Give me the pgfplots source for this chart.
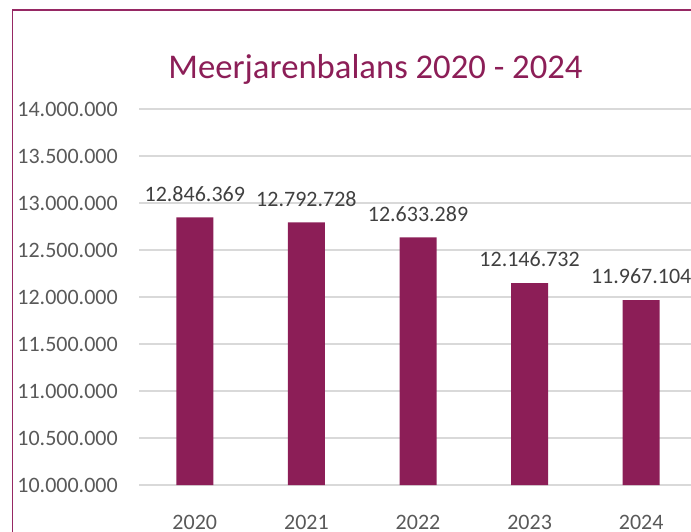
\documentclass[border=0pt]{standalone}
\usepackage{pgfplots}
\pgfplotsset{compat=1.18}
\usepackage{fontspec}
\setmainfont{Carlito}
\definecolor{barcol}{RGB}{140,30,87}
\definecolor{framecol}{RGB}{150,40,100}
\definecolor{tickcol}{RGB}{89,89,89}
\definecolor{lblcol}{RGB}{64,64,64}
\definecolor{gridgray}{RGB}{217,217,217}
\begin{document}
\begin{tikzpicture}
\useasboundingbox (0,0) rectangle (518.25pt,398.25pt);
\draw[framecol, line width=1pt] (9.6pt,-5pt) -- (9.6pt,390.75pt) -- (540pt,390.75pt);
\node[anchor=base, text=barcol, font=\fontsize{26}{30}\selectfont, inner sep=0pt] at (281.6pt,339pt) {Meerjarenbalans 2020 - 2024};
\begin{axis}[
  at={(104.25pt,34.5pt)}, anchor=south west,
  scale only axis, width=418.5pt, height=282pt,
  xmin=-0.5, xmax=4.5,
  ymin=10000000, ymax=14000000,
  ytick={10000000,10500000,11000000,11500000,12000000,12500000,13000000,13500000,14000000},
  xtick={0,1,2,3,4},
  xticklabels={2020,2021,2022,2023,2024},
  scaled y ticks=false,
  /pgf/number format/.cd, fixed, precision=0, 1000 sep={.}, assume math mode=true,
  /pgfplots/.cd,
  axis line style={draw=none},
  major tick length=0pt,
  xmajorgrids=false, ymajorgrids=true,
  major grid style={draw=gridgray, line width=0.9pt},
  yticklabel style={anchor=east, inner sep=0pt, xshift=-15.75pt, text=tickcol, font=\fontsize{16.5}{20}\selectfont},
  xticklabel style={anchor=north, inner sep=0pt, yshift=-22.5pt, text=tickcol, font=\fontsize{16.5}{20}\selectfont},
  ybar, bar width=27.75pt,
  point meta=explicit symbolic,
  nodes near coords={\pgfplotspointmeta},
  nodes near coords style={anchor=south, inner sep=0pt, yshift=12pt, text=lblcol, font=\fontsize{16.5}{20}\selectfont},
  clip=true,
]
\addplot[fill=barcol, draw=none] table[x=x, y=y, meta=lab] {
x y lab
0 12846369 12.846.369
1 12792728 12.792.728
2 12633289 12.633.289
3 12146732 12.146.732
4 11967104 11.967.104
};
\end{axis}
\end{tikzpicture}
\end{document}
